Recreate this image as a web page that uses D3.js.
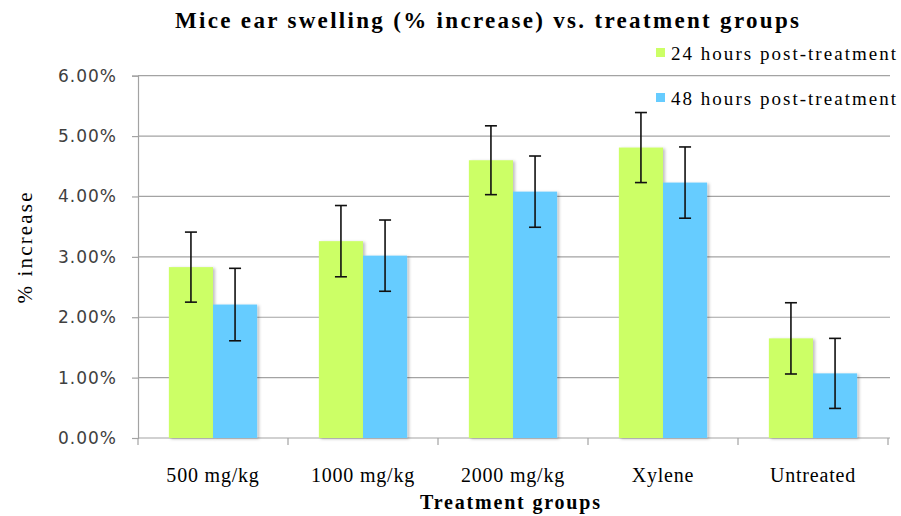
<!DOCTYPE html>
<html lang="en">
<head>
    <meta charset="UTF-8">
    <title>Mice ear swelling</title>
    <script src="https://d3js.org/d3.v7.min.js"></script>
    <style>
        body { margin: 0; background: #fff; }
    </style>
</head>
<body>
    <div id="chart"></div>

    <script>
        // Chart data (fractions)
        const groups = ["500 mg/kg", "1000 mg/kg", "2000 mg/kg", "Xylene", "Untreated"];
        const seriesNames = ["24 hours post-treatment", "48 hours post-treatment"];
        const colors = ["#CCFF66", "#66CCFF"];
        const h24 = [0.0283, 0.0326, 0.0460, 0.0481, 0.0165];
        const h48 = [0.0221, 0.0302, 0.0408, 0.0423, 0.0107];
        const err24 = [0.0058, 0.0059, 0.0057, 0.0058, 0.0059];
        const err48 = [0.0060, 0.0059, 0.0059, 0.0059, 0.0058];
        const yTicks = [0, 0.01, 0.02, 0.03, 0.04, 0.05, 0.06];

        const width = 901, height = 516;
        const plot = { left: 138, right: 888, top: 75.7, bottom: 438 };
        const serif = '"Liberation Serif", "Times New Roman", "DejaVu Serif", serif';

        const svg = d3.select("#chart")
            .append("svg")
            .attr("width", width)
            .attr("height", height);

        const defs = svg.append("defs");
        defs.append("filter")
            .attr("id", "shadow")
            .attr("x", "-10%").attr("y", "-10%")
            .attr("width", "130%").attr("height", "120%")
            .append("feDropShadow")
            .attr("dx", 2).attr("dy", 1)
            .attr("stdDeviation", 1.5)
            .attr("flood-color", "#000")
            .attr("flood-opacity", 0.25);

        const x = d3.scaleBand().domain(groups).range([plot.left, plot.right]);
        const x1 = d3.scaleBand().domain([0, 1]).range([0, x.bandwidth()]).paddingOuter(0.7);
        const y = d3.scaleLinear().domain([0, 0.06]).range([plot.bottom, plot.top]);

        // Gridlines
        svg.append("g")
            .selectAll("line")
            .data(yTicks.slice(1))
            .enter()
            .append("line")
            .attr("x1", plot.left).attr("x2", plot.right + 2)
            .attr("y1", d => y(d)).attr("y2", d => y(d))
            .attr("stroke", "#a3a3a3")
            .attr("stroke-width", 1.2);

        // Y axis
        const yAxis = svg.append("g")
            .attr("transform", `translate(${plot.left},0)`)
            .call(d3.axisLeft(y).tickValues(yTicks).tickFormat(d3.format(".2%")).tickSize(6).tickPadding(15));
        yAxis.select(".domain").attr("stroke", "#a3a3a3").attr("stroke-width", 1.2);
        yAxis.selectAll(".tick line").attr("stroke", "#a3a3a3").attr("stroke-width", 1.2);
        yAxis.selectAll(".tick text")
            .style("font-family", '"DejaVu Sans", Verdana, sans-serif')
            .style("font-size", "17px")
            .style("letter-spacing", "1px")
            .style("fill", "#404040");

        // X axis line and ticks at category boundaries
        svg.append("line")
            .attr("x1", plot.left).attr("x2", plot.right + 2)
            .attr("y1", plot.bottom).attr("y2", plot.bottom)
            .attr("stroke", "#a3a3a3").attr("stroke-width", 1.2);
        const bounds = groups.map(g => x(g)).concat([x(groups[groups.length - 1]) + x.bandwidth()]);
        svg.append("g")
            .selectAll("line")
            .data(bounds)
            .enter()
            .append("line")
            .attr("x1", d => d).attr("x2", d => d)
            .attr("y1", plot.bottom).attr("y2", plot.bottom + 7)
            .attr("stroke", "#a3a3a3").attr("stroke-width", 1.2);

        // Bars
        const rows = [];
        groups.forEach((g, i) => {
            rows.push({ g, s: 0, v: h24[i], e: err24[i] });
            rows.push({ g, s: 1, v: h48[i], e: err48[i] });
        });

        svg.append("g")
            .selectAll("rect")
            .data(rows)
            .enter()
            .append("rect")
            .attr("x", d => x(d.g) + x1(d.s))
            .attr("y", d => y(d.v))
            .attr("width", x1.bandwidth())
            .attr("height", d => plot.bottom - y(d.v))
            .attr("fill", d => colors[d.s])
            .attr("filter", "url(#shadow)");

        // Error bars
        const eb = svg.append("g")
            .attr("stroke", "#111")
            .attr("stroke-width", 1.6)
            .selectAll("g")
            .data(rows)
            .enter()
            .append("g")
            .attr("transform", d => `translate(${x(d.g) + x1(d.s) + x1.bandwidth() / 2},0)`);
        eb.append("line")
            .attr("y1", d => y(d.v + d.e)).attr("y2", d => y(d.v - d.e));
        eb.append("line")
            .attr("x1", -6).attr("x2", 6)
            .attr("y1", d => y(d.v + d.e)).attr("y2", d => y(d.v + d.e));
        eb.append("line")
            .attr("x1", -6).attr("x2", 6)
            .attr("y1", d => y(d.v - d.e)).attr("y2", d => y(d.v - d.e));

        // Category labels
        svg.append("g")
            .selectAll("text")
            .data(groups)
            .enter()
            .append("text")
            .attr("font-family", serif)
            .attr("x", d => x(d) + x.bandwidth() / 2)
            .attr("y", 482)
            .attr("text-anchor", "middle")
            .attr("font-size", 20)
            .attr("letter-spacing", 0.8)
            .text(d => d);

        // Title
        svg.append("text")
            .attr("font-family", serif)
            .attr("x", 487).attr("y", 28)
            .attr("text-anchor", "middle")
            .attr("font-size", 23)
            .attr("font-weight", "bold")
            .attr("textLength", 624)
            .attr("lengthAdjust", "spacing")
            .text("Mice ear swelling (% increase) vs. treatment groups");

        // Axis titles
        svg.append("text")
            .attr("font-family", serif)
            .attr("x", 510).attr("y", 509)
            .attr("text-anchor", "middle")
            .attr("font-size", 20)
            .attr("font-weight", "bold")
            .attr("textLength", 180)
            .attr("lengthAdjust", "spacing")
            .text("Treatment groups");

        svg.append("text")
            .attr("font-family", serif)
            .attr("transform", "translate(32,248) rotate(-90)")
            .attr("text-anchor", "middle")
            .attr("font-size", 21)
            .attr("textLength", 111)
            .attr("lengthAdjust", "spacing")
            .text("% increase");

        // Legend
        const legend = svg.append("g")
            .selectAll("g")
            .data(seriesNames)
            .enter()
            .append("g")
            .attr("transform", (d, i) => `translate(656,${48 + i * 45})`);
        legend.append("rect")
            .attr("width", 9).attr("height", 9)
            .attr("fill", (d, i) => colors[i]);
        legend.append("text")
            .attr("font-family", serif)
            .attr("x", 15).attr("y", 12)
            .attr("font-size", 19)
            .attr("textLength", 225)
            .attr("lengthAdjust", "spacing")
            .text(d => d);
    </script>
</body>
</html>
